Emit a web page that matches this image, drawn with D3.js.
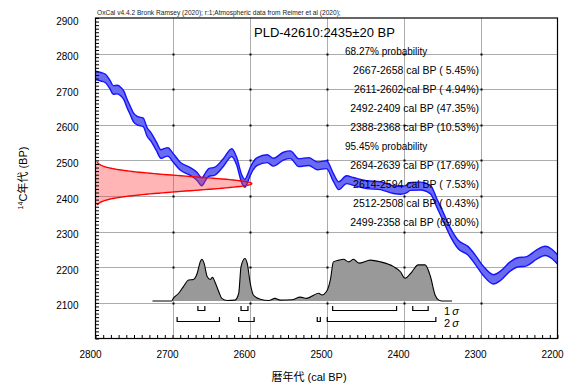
<!DOCTYPE html>
<html><head><meta charset="utf-8">
<script src="https://cdn.jsdelivr.net/npm/d3@7"></script>
<style>body{margin:0;background:#fff} svg{display:block}</style>
</head><body><svg id="chart" width="567" height="392"></svg>
<script>
// Calibration curve (IntCal20 atmospheric), cal BP vs 14C BP with 1-sigma error
const calBP = [2800,2793,2787,2781,2777,2772,2767,2763,2759,2755,2751,2745,2738,2733,2728,2721,2715,2710,2706,2700,
  2690,2677,2668,2662,2657,2653,2645,2634,2623,2617,2610,2606,2602,2599,2590,2577,2569,2556,2547,2536,
  2523,2512,2500,2491,2484,2474,2465,2448,2430,2413,2404,2396,2391,2378,2365,2357,2348,2339,2329,2316,
  2307,2296,2283,2274,2261,2253,2240,2227,2216,2207,2200];
const c14 = [2739,2735,2730,2712,2698,2699,2693,2682,2660,2641,2622,2611,2607,2580,2566,2540,2518,2522,2524,2510,
  2484,2469,2455,2440,2455,2466,2470,2494,2522,2500,2448,2436,2452,2469,2497,2505,2495,2512,2516,2494,
  2497,2485,2488,2452,2429,2446,2441,2432,2429,2418,2416,2420,2427,2428,2418,2382,2340,2298,2264,2246,
  2222,2189,2166,2176,2203,2213,2217,2236,2246,2237,2222];
const c14Err = [12,12,12,12,12,12,12,12,12,12,12,12,12,12,12,12,12,12,12,12,
  11,11,11,11,11,11,11,11,11,11,11,11,11,11,11,11,11,11,11,11,
  11,11,11,11,11,11,11,11,11,11,11,11,11,11,12,12,12,12,12,12,
  13,13,13,13,13,13,13,13,13,13,13];

// Measurement
const sampleName = "PLD-42610";
const sampleAge = 2435;
const sampleErr = 20;

// Calibrated probability distribution (relative)
const probCal = [2726,2701,2699,2692,2686,2679,2673,2668,2664,2662,2659,2655,2651,2648,2645,2640,2636,2629,2619,2614,
  2611,2606,2603,2599,2595,2586,2575,2567,2560,2545,2534,2526,2510,2506,2500,2495,2491,2484,2478,2471,
  2465,2458,2443,2430,2413,2404,2398,2389,2381,2372,2365,2359,2354,2350,2337];
const probVal = [0,0,0.06,0.18,0.33,0.49,0.50,0.64,0.91,0.97,0.88,0.57,0.50,0.55,0.45,0.22,0.06,0.01,0.02,0.18,
  0.80,0.99,0.88,0.41,0.14,0.04,0.01,0.06,0.02,0.03,0.09,0.06,0.18,0.14,0.22,0.49,0.91,0.95,0.97,0.91,
  0.97,0.88,0.95,0.91,0.80,0.68,0.53,0.68,0.84,0.84,0.57,0.14,0.02,0,0];

// Calibrated ranges
const range68 = [[2667,2658],[2611,2602],[2492,2409],[2388,2368]];
const pct68 = [5.45,4.94,47.35,10.53];
const range95 = [[2694,2639],[2614,2594],[2512,2508],[2499,2358]];
const pct95 = [17.69,7.53,0.43,69.80];

const xTicks = [2800,2700,2600,2500,2400,2300,2200];
const yTicks = [2100,2200,2300,2400,2500,2600,2700,2800,2900];
const headerText = "OxCal v4.4.2 Bronk Ramsey (2020); r:1;Atmospheric data from Reimer et al (2020);";

const FONT = "'Liberation Sans', Arial, 'Noto Sans CJK JP', sans-serif";
const svg = d3.select("#chart");
const L = 95.5, R = 557.5, T = 18, B = 338.5;

const x = d3.scaleLinear().domain([2800, 2200]).range([L, R]);
const y = d3.scaleLinear().domain([2000, 2900]).range([B, T]);

svg.append("rect").attr("width", 567).attr("height", 392).attr("fill", "#fff");

// grid
const grid = svg.append("g").attr("stroke", "#acacac").attr("stroke-width", 1);
xTicks.slice(1, -1).forEach(v => grid.append("line")
  .attr("x1", Math.round(x(v)) + 0.5).attr("x2", Math.round(x(v)) + 0.5).attr("y1", T).attr("y2", B));
yTicks.slice(0, -1).forEach(v => grid.append("line")
  .attr("y1", Math.round(y(v)) + 0.5).attr("y2", Math.round(y(v)) + 0.5).attr("x1", L).attr("x2", R));

// small marks at grid crossings
const marks = svg.append("g").attr("fill", "#000");
xTicks.slice(1, -1).forEach(xv => yTicks.slice(0, -1).forEach(yv => {
  const px = Math.round(x(xv)), py = Math.round(y(yv));
  marks.append("rect").attr("x", px - 0.5).attr("y", py - 0.5).attr("width", 2).attr("height", 2);
}));

// calibration curve band
const curve = calBP.map((c, i) => ({c, m: c14[i], e: c14Err[i]}));
svg.append("path").datum(curve)
  .attr("d", d3.area().x(d => x(d.c)).y0(d => y(d.m - d.e)).y1(d => y(d.m + d.e)).curve(d3.curveMonotoneX))
  .attr("fill", "#6b6bf2");
[1, -1].forEach(s => svg.append("path").datum(curve)
  .attr("d", d3.line().x(d => x(d.c)).y(d => y(d.m + s * d.e)).curve(d3.curveMonotoneX))
  .attr("fill", "none").attr("stroke", "#1414ff").attr("stroke-width", 1.4));

// measured radiocarbon age distribution along the y axis
const ySamples = d3.range(sampleAge - 3 * sampleErr, sampleAge + 3 * sampleErr + 0.1, 1);
const pdf = v => Math.exp(-0.5 * ((v - sampleAge) / sampleErr) ** 2);
const wScale = d3.scaleLinear().domain([0, 1]).range([L, x(2597)]);
const gauss = ySamples.map(v => ({v, p: pdf(v)}));
svg.append("path").datum(gauss)
  .attr("d", d3.area().y(d => y(d.v)).x0(L).x1(d => wScale(d.p)))
  .attr("fill", "rgba(255,60,60,0.38)");
svg.append("path").datum(gauss)
  .attr("d", d3.line().y(d => y(d.v)).x(d => wScale(d.p)))
  .attr("fill", "none").attr("stroke", "#ff0000").attr("stroke-width", 1.4);

// calibrated distribution
const pBase = 301;
const pScale = d3.scaleLinear().domain([0, 1]).range([pBase, pBase - 43]);
const prob = probCal.map((c, i) => ({c, p: probVal[i]}));
svg.append("path").datum(prob)
  .attr("d", d3.area().x(d => x(d.c)).y0(pBase).y1(d => pScale(d.p)).curve(d3.curveMonotoneX))
  .attr("fill", "#999999");
svg.append("path").datum(prob)
  .attr("d", d3.line().x(d => x(d.c)).y(d => pScale(d.p)).curve(d3.curveMonotoneX))
  .attr("fill", "none").attr("stroke", "#000").attr("stroke-width", 1.1);

// range brackets
function brackets(ranges, yb) {
  const g = svg.append("g").attr("fill", "none").attr("stroke", "#000").attr("stroke-width", 1.2);
  ranges.forEach(([a, b]) => {
    const x1 = x(a), x2 = x(b);
    g.append("path").attr("d", `M${x1},${yb - 4.5}V${yb}H${x2}V${yb - 4.5}`);
  });
}
brackets(range68, 310.5);
brackets(range95, 321.5);
[["1", 314.5], ["2", 326.5]].forEach(([n, yy]) => {
  const t = svg.append("text").attr("x", 444).attr("y", yy).attr("font-family", FONT).attr("font-size", 11);
  t.append("tspan").text(n);
  t.append("tspan").attr("dx", 2).attr("font-style", "italic").text("σ");
});

// frame
svg.append("rect").attr("x", L).attr("y", T).attr("width", R - L).attr("height", B - T)
  .attr("fill", "none").attr("stroke", "#000").attr("stroke-width", 1.2);

// minor ticks (inward)
svg.append("g").attr("transform", `translate(${L},0)`)
  .call(d3.axisRight(y).tickValues(d3.range(2000, 2901, 10)).tickSize(3.5).tickFormat(""))
  .call(g => g.select(".domain").remove());
svg.append("g").attr("transform", `translate(0,${B})`)
  .call(d3.axisTop(x).tickValues(d3.range(2200, 2801, 10)).tickSize(3.5).tickFormat(""))
  .call(g => g.select(".domain").remove());

// tick labels
svg.append("g").attr("transform", `translate(${L},0)`)
  .call(d3.axisLeft(y).tickValues(yTicks).tickSize(0).tickPadding(17).tickFormat(d3.format("d")))
  .call(g => g.select(".domain").remove())
  .call(g => g.selectAll("text").attr("font-family", FONT).attr("font-size", 10).attr("dy", "0.6em"));
svg.append("g").attr("transform", `translate(0,${B})`)
  .call(d3.axisBottom(x).tickValues(xTicks).tickSize(0).tickPadding(12).tickFormat(d3.format("d")))
  .call(g => g.select(".domain").remove())
  .call(g => g.selectAll("text").attr("font-family", FONT).attr("font-size", 10).attr("dx", -5.5));

// axis titles
svg.append("text").attr("x", 309).attr("y", 381).attr("text-anchor", "middle")
  .attr("font-family", FONT).attr("font-size", 11).text("暦年代 (cal BP)");
const yt = svg.append("text").attr("transform", "translate(27,178) rotate(-90)").attr("text-anchor", "middle")
  .attr("font-family", FONT).attr("font-size", 11);
yt.append("tspan").attr("font-size", 7).attr("dy", -4).text("14");
yt.append("tspan").attr("dy", 4).text("C年代 (BP)");

// header and annotation
svg.append("text").attr("x", 97).attr("y", 15).attr("font-family", FONT).attr("font-size", 6.6)
  .attr("fill", "#222").text(headerText);
svg.append("text").attr("x", 254).attr("y", 37).attr("font-family", FONT).attr("font-size", 13)
  .text(`${sampleName}:${sampleAge}±${sampleErr} BP`);

const fmtPct = p => p.toFixed(2).padStart(5, "\u00a0");
const lines = [{t: "68.27% probability", head: true}]
  .concat(range68.map((r, i) => ({t: `${r[0]}-${r[1]} cal BP (${fmtPct(pct68[i])}%)`})))
  .concat([{t: "95.45% probability", head: true}])
  .concat(range95.map((r, i) => ({t: `${r[0]}-${r[1]} cal BP (${fmtPct(pct95[i])}%)`})));
svg.append("g").selectAll("text").data(lines).join("text")
  .attr("x", d => d.head ? 345 : 479)
  .attr("text-anchor", d => d.head ? "start" : "end")
  .attr("y", (d, i) => 55 + i * 19)
  .attr("font-family", FONT).attr("font-size", d => d.head ? 10 : 10.5)
  .text(d => d.t);
</script></body></html>
